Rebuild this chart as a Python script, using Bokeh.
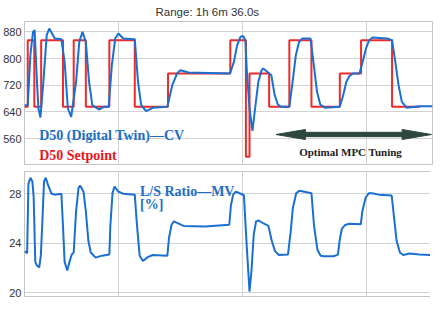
from bokeh.plotting import figure
from bokeh.models import FixedTicker, Range1d, Label
from bokeh.layouts import column
from bokeh.embed import file_html
from bokeh.resources import INLINE

# ---- data (time in minutes) ----
title_text = "Range: 1h 6m 36.0s"

sp_t = [0, 0.53, 1.60, 2.72, 6.28, 8.03, 10.01, 13.85, 18.0, 23.43, 33.59, 36.14,
        36.73, 39.93, 43.23, 46.84, 51.47, 54.94, 60.0, 64.5]
sp_v = [655, 855, 655, 855, 655, 855, 655, 855, 655, 755, 855, 505,
        755, 655, 855, 655, 755, 855, 655, 655]

cv_t = [0, 0.53, 0.96, 1.39, 1.65, 2.03, 2.28, 2.60, 3.08, 3.63, 4.04, 4.95, 6.02,
        6.55, 7.08, 7.62, 8.42, 8.94, 9.47, 10.01, 10.54, 11.07, 12.14, 12.94, 13.74,
        14.26, 14.81, 15.33, 16.13, 18.0, 18.53, 19.05, 19.85, 20.92, 23.32, 24.12,
        24.91, 25.44, 26.78, 33.54, 34.18, 34.71, 35.25, 35.66, 36.05, 36.30, 36.73,
        37.21, 37.64, 38.17, 38.70, 38.97, 39.77, 40.29, 40.84, 41.36, 41.89, 43.23,
        43.76, 44.29, 44.83, 45.36, 46.68, 47.23, 47.75, 48.28, 49.08, 51.47, 52.02,
        52.54, 53.07, 53.61, 54.67, 55.21, 55.74, 56.27, 56.81, 59.20, 60.00, 60.53,
        61.06, 61.60, 62.40, 64.52, 66.60]
cv_v = [660, 660, 810, 880, 885, 730, 650, 623, 730, 870, 890, 860, 858,
        790, 650, 625, 730, 850, 880, 850, 730, 660, 647, 655, 655,
        780, 860, 875, 860, 858, 730, 660, 642, 652, 655, 720,
        755, 765, 758, 755, 790, 840, 865, 868, 855, 760, 650,
        583, 650, 730, 765, 770, 758, 750, 690, 662, 655, 655,
        730, 810, 850, 860, 860, 780, 700, 662, 652, 655, 690,
        730, 748, 755, 755, 790, 830, 855, 863, 860, 855, 790,
        720, 670, 652, 657, 657]

mv_t = [0, 0.43, 0.64, 0.96, 1.28, 1.49, 1.76, 2.03, 2.40, 2.67, 2.99, 3.19, 3.47,
        3.88, 4.42, 4.95, 6.02, 6.28, 6.55, 6.98, 7.35, 7.71, 8.03, 8.42, 8.83, 9.10,
        9.63, 10.01, 10.43, 10.81, 11.61, 12.66, 13.85, 14.01, 14.37, 14.69, 15.33,
        16.13, 18.0, 18.37, 18.80, 19.33, 20.12, 20.92, 23.32, 23.59, 24.0, 24.39,
        24.91, 25.98, 29.43, 33.43, 33.70, 34.07, 34.50, 35.30, 35.82, 36.09, 36.37,
        36.73, 37.05, 37.42, 37.80, 38.22, 39.02, 39.82, 40.36, 40.89, 41.52, 43.01,
        43.44, 43.81, 44.35, 44.88, 45.68, 46.84, 47.27, 47.80, 48.34, 48.87, 50.47,
        51.16, 51.43, 51.80, 52.34, 53.02, 54.89, 55.15, 55.69, 56.22, 56.75, 57.82,
        59.94, 60.21, 60.74, 61.28, 61.81, 62.88, 64.47, 66.60]
mv_v = [23.36, 23.2, 28.8, 29.3, 29.0, 27.8, 22.5, 22.2, 22.05, 23.0, 26.6, 29.0, 29.3,
        28.65, 28.0, 27.93, 28.0, 25.4, 22.5, 21.8, 22.5, 23.1, 23.25, 26.6, 28.5, 28.65,
        28.17, 26.6, 24.2, 23.25, 22.84, 23.0, 23.1, 25.4, 28.05, 28.58, 28.17,
        28.0, 27.93, 25.4, 23.0, 22.57, 22.88, 23.05, 23.0, 24.45, 25.5, 25.77,
        25.65, 25.4, 25.35, 25.5, 27.1, 27.93, 28.17, 28.0, 27.88, 25.4, 23.0,
        20.1, 21.8, 24.7, 25.77, 25.84, 25.6, 25.4, 24.2, 23.37, 23.05, 23.1,
        24.9, 26.85, 28.05, 28.24, 28.17, 28.05, 25.4, 23.5, 23.0, 22.95, 22.95,
        23.08, 24.2, 25.17, 25.48, 25.58, 25.53, 26.6, 27.7, 28.05, 28.05, 27.93,
        27.86, 26.6, 24.2, 23.25, 23.05, 23.17, 23.1, 23.05]

cv_ticks = [560, 640, 720, 800, 880]
mv_ticks = [20, 24, 28]
time_grid = [15.33, 35.62, 55.90]

# ---- styles ----
RED = "#ee2a2a"
BLUE = "#1a6fd3"
BLUE_TXT = "#1d6ec4"
RED_TXT = "#e8161c"
ARROW = "#2e4741"
SERIF = "Liberation Serif"
SANS = "Liberation Sans"

X_RANGE = (0, 66.6)


def style(p, ticks):
    p.yaxis.ticker = FixedTicker(ticks=ticks)
    p.yaxis.axis_line_color = None
    p.yaxis.major_tick_line_color = None
    p.yaxis.minor_tick_line_color = None
    p.yaxis.major_tick_out = 0
    p.yaxis.major_tick_in = 0
    p.yaxis.major_label_standoff = 3
    p.yaxis.major_label_text_font = SANS
    p.yaxis.major_label_text_font_size = "11px"
    p.yaxis.major_label_text_color = "#333333"
    p.ygrid.ticker = FixedTicker(ticks=ticks)
    p.xgrid.ticker = FixedTicker(ticks=time_grid)
    p.grid.grid_line_color = "#d2d2d2"
    p.grid.grid_line_width = 1
    p.outline_line_color = "#c4c4c4"
    p.outline_line_width = 1
    p.background_fill_color = "white"
    p.border_fill_color = "white"


p1 = figure(frame_width=408, frame_height=143,
            x_range=Range1d(*X_RANGE), y_range=Range1d(482, 911),
            output_backend="svg", toolbar_location=None, x_axis_location=None,
            min_border_left=21, min_border_right=1, min_border_bottom=3, min_border_top=0)
style(p1, cv_ticks)
p1.title.text = title_text
p1.title.align = "left"
p1.title.offset = 131
p1.title.text_font = SANS
p1.title.text_font_size = "11.5px"
p1.title.text_font_style = "normal"
p1.title.text_color = "#333333"
p1.title.standoff = 7

p1.step(sp_t, sp_v, mode="after", line_color=RED, line_width=2)
p1.line(cv_t, cv_v, line_color=BLUE, line_width=2)

# double-headed arrow built from its end points
ax0, ax1, ay = 41.05, 66.44, 572
hl, hh, sh = 4.8, 15, 6.5
arrow_x = [ax0, ax0 + hl, ax0 + hl, ax1 - hl, ax1 - hl, ax1, ax1 - hl, ax1 - hl, ax0 + hl, ax0 + hl]
arrow_y = [ay, ay + hh, ay + sh, ay + sh, ay + hh, ay, ay - hh, ay - sh, ay - sh, ay - hh]
p1.patch(arrow_x, arrow_y, fill_color=ARROW, line_color=ARROW, line_width=1)

p1.add_layout(Label(x=2.4, y=548, text="D50 (Digital Twin)—CV", text_font=SERIF,
                    text_font_size="14px", text_font_style="bold", text_color=BLUE_TXT))
p1.add_layout(Label(x=2.4, y=488, text="D50 Setpoint", text_font=SERIF,
                    text_font_size="14px", text_font_style="bold", text_color=RED_TXT))
p1.add_layout(Label(x=44.83, y=503, text="Optimal MPC Tuning", text_font=SERIF,
                    text_font_size="11px", text_font_style="bold", text_color="#222222"))

p2 = figure(frame_width=408, frame_height=125,
            x_range=p1.x_range, y_range=Range1d(19.7, 29.8),
            output_backend="svg", toolbar_location=None, x_axis_location=None,
            min_border_left=21, min_border_right=1, min_border_bottom=6, min_border_top=4)
style(p2, mv_ticks)
p2.line(mv_t, mv_v, line_color=BLUE, line_width=2)
p2.add_layout(Label(x=18.85, y=27.55, text="L/S Ratio—MV", text_font=SERIF,
                    text_font_size="14px", text_font_style="bold", text_color=BLUE_TXT))
p2.add_layout(Label(x=18.85, y=26.54, text="[%]", text_font=SERIF,
                    text_font_size="14px", text_font_style="bold", text_color=BLUE_TXT))

layout = column(p1, p2, spacing=0)
open("out.html", "w").write(file_html(layout, INLINE))
